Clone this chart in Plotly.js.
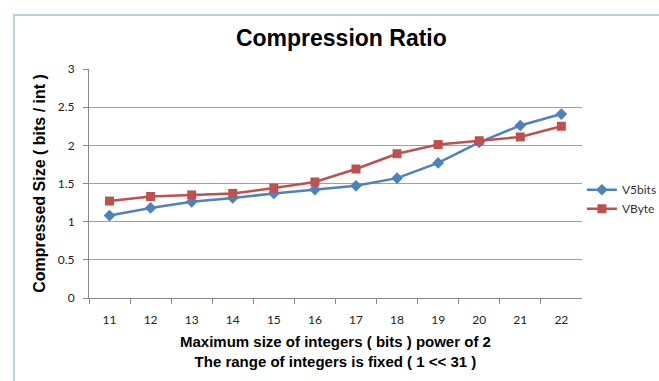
<!DOCTYPE html>
<html>
<head>
<meta charset="utf-8">
<script src="https://cdn.plot.ly/plotly-3.0.1.min.js"></script>
<style>
html,body{margin:0;padding:0;background:#fff;}
#wrap{position:absolute;left:0;top:0;width:659px;height:381px;background:#fff;}
#frame{position:absolute;left:13px;top:14px;width:660px;height:372px;border-left:2px solid #b9d3dc;border-top:2px solid #b9d3dc;}
#chart{position:absolute;left:0;top:0;width:659px;height:381px;}
</style>
</head>
<body>
<div id="wrap"><div id="frame"></div><div id="chart"></div></div>
<script>
const categories = ["11","12","13","14","15","16","17","18","19","20","21","22"];
const v5bits = [1.08, 1.18, 1.26, 1.31, 1.37, 1.42, 1.47, 1.57, 1.77, 2.04, 2.26, 2.41];
const vbyte  = [1.27, 1.33, 1.35, 1.37, 1.44, 1.52, 1.69, 1.89, 2.01, 2.06, 2.11, 2.25];
const seriesNames = ["V5bits", "VByte"];
const yTickVals = [0, 0.5, 1, 1.5, 2, 2.5, 3];
const yTickText = ["0", "0.5", "1", "1.5", "2", "2.5", "3"];

const traces = [
  {x: categories, y: v5bits, name: seriesNames[0], type: "scatter", mode: "lines+markers",
   line: {color: "#4F81BD", width: 2.5}, marker: {symbol: "diamond", size: 9, color: "#4F81BD"}},
  {x: categories, y: vbyte, name: seriesNames[1], type: "scatter", mode: "lines+markers",
   line: {color: "#C0504D", width: 2.5}, marker: {symbol: "square", size: 9, color: "#C0504D"}}
];

const layout = {
  width: 659, height: 381,
  paper_bgcolor: "rgba(0,0,0,0)", plot_bgcolor: "rgba(0,0,0,0)",
  margin: {l: 89, r: 73, t: 69, b: 83, pad: 0},
  title: {text: "<b>Compression Ratio</b>", x: 0.518, xanchor: "center", xref: "container",
          y: 0.9, yref: "container", yanchor: "middle",
          font: {family: "Liberation Sans, Arial", size: 23, color: "#000"}},
  showlegend: true,
  legend: {xref: "container", yref: "container", x: 0.883, xanchor: "left", y: 0.477, yanchor: "middle",
           bgcolor: "rgba(0,0,0,0)",
           font: {family: "Lato, Open Sans, sans-serif", size: 12, color: "#333"}, itemwidth: 30,
           tracegroupgap: 2},
  xaxis: {
    type: "category", range: [-0.5, 11.5], autorange: false,
    tickson: "boundaries", ticks: "outside", ticklen: 5, tickcolor: "#888",
    showgrid: false, showline: true, linecolor: "#888", linewidth: 1, zeroline: false,
    ticklabelstandoff: 11,
    tickfont: {family: "Lato, Open Sans, sans-serif", size: 12, color: "#222"},
    title: {text: "<b>Maximum size of integers ( bits ) power of 2<br>The range of integers is fixed ( 1 << 31 )</b>",
            font: {family: "Liberation Sans, Arial", size: 15, color: "#000"}, standoff: 10}
  },
  yaxis: {
    range: [0, 3], autorange: false, tickvals: yTickVals, ticktext: yTickText, ticks: "outside", ticklen: 5, tickcolor: "#888",
    showgrid: true, gridcolor: "#a0a0a0", gridwidth: 1, showline: true, linecolor: "#888", zeroline: false,
    ticklabelstandoff: 6,
    tickfont: {family: "Lato, Open Sans, sans-serif", size: 12, color: "#222"},
    title: {text: "<b>Compressed Size ( bits / int )</b>",
            font: {family: "Liberation Sans, Arial", size: 16, color: "#000"}, standoff: 8}
  }
};
Plotly.newPlot("chart", traces, layout, {displayModeBar: false, staticPlot: true});
</script>
</body>
</html>
